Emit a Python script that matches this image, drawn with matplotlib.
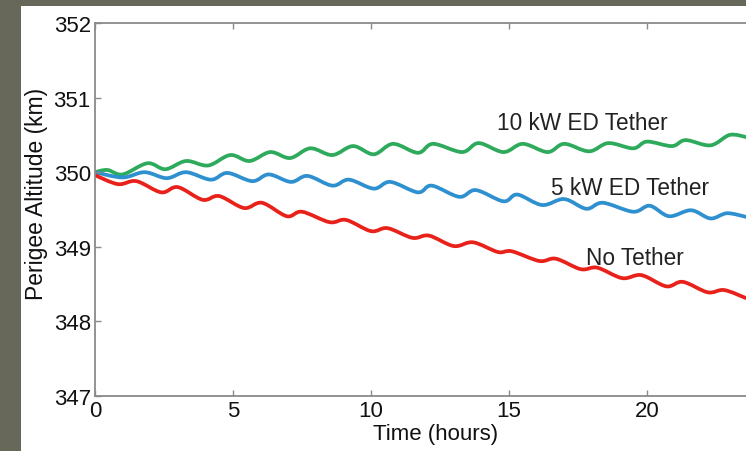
import matplotlib
matplotlib.use("Agg")
import numpy as np
import matplotlib.pyplot as plt
from matplotlib.patches import Rectangle, PathPatch
from matplotlib.path import Path

plt.rcParams['font.family'] = ['Liberation Sans', 'DejaVu Sans']

# --- data ---
red_t = [0.0, 0.83, 1.5, 2.4, 3.0, 3.9, 4.5, 5.4, 6.05, 6.95, 7.5, 8.5, 9.1, 10.0,
         10.6, 11.5, 12.1, 13.0, 13.7, 14.6, 15.1, 16.1, 16.7, 17.6, 18.2, 19.1,
         19.8, 20.7, 21.3, 22.2, 22.8, 23.6]
red_v = [349.96, 349.84, 349.88, 349.73, 349.80, 349.63, 349.68, 349.52, 349.59,
         349.41, 349.47, 349.33, 349.36, 349.21, 349.25, 349.12, 349.15, 349.01,
         349.06, 348.93, 348.94, 348.81, 348.84, 348.70, 348.72, 348.58, 348.62,
         348.47, 348.53, 348.39, 348.42, 348.31]

blue_t = [0.0, 1.0, 1.8, 2.6, 3.3, 4.2, 4.8, 5.7, 6.3, 7.1, 7.7, 8.6, 9.2, 10.1,
          10.7, 11.7, 12.2, 13.2, 13.8, 14.8, 15.3, 16.2, 17.0, 17.8, 18.4, 19.5,
          20.1, 20.8, 21.6, 22.3, 22.9, 23.6]
blue_v = [350.00, 349.93, 350.00, 349.92, 350.00, 349.90, 349.99, 349.88, 349.97,
          349.87, 349.95, 349.82, 349.90, 349.78, 349.87, 349.73, 349.82, 349.67,
          349.76, 349.61, 349.70, 349.56, 349.64, 349.51, 349.59, 349.47, 349.55,
          349.41, 349.49, 349.38, 349.45, 349.40]

green_t = [0.0, 0.45, 1.0, 1.9, 2.55, 3.3, 4.1, 4.9, 5.6, 6.35, 7.07, 7.8, 8.6,
           9.35, 10.1, 10.8, 11.7, 12.25, 13.3, 13.9, 14.8, 15.5, 16.4, 17.0,
           17.9, 18.6, 19.5, 20.0, 20.9, 21.4, 22.3, 23.0, 23.6]
green_v = [350.00, 350.03, 349.97, 350.12, 350.04, 350.15, 350.09, 350.23, 350.15,
           350.27, 350.19, 350.32, 350.23, 350.35, 350.24, 350.38, 350.26, 350.38,
           350.27, 350.39, 350.27, 350.38, 350.27, 350.38, 350.28, 350.39, 350.32,
           350.41, 350.35, 350.43, 350.36, 350.50, 350.47]

labels = ["10 kW ED Tether", "5 kW ED Tether", "No Tether"]
x_ticks = [0, 5, 10, 15, 20]
y_ticks = [347, 348, 349, 350, 351, 352]


def smooth_path(t, v):
    """Smooth (Catmull-Rom style) Bezier path passing through the given points."""
    p = np.column_stack([t, v]).astype(float)
    n = len(p)
    verts = [p[0]]
    codes = [Path.MOVETO]
    for i in range(n - 1):
        p0 = p[i - 1] if i > 0 else p[i]
        p1, p2 = p[i], p[i + 1]
        p3 = p[i + 2] if i + 2 < n else p[i + 1]
        c1 = p1 + (p2 - p0) / 6.0
        c2 = p2 - (p3 - p1) / 6.0
        verts += [c1, c2, p2]
        codes += [Path.CURVE4] * 3
    return Path(verts, codes)


W, H = 746, 452
fig = plt.figure(figsize=(W / 100, H / 100), dpi=100)
fig.patch.set_facecolor('#67675a')
bg = Rectangle((21 / W, 0), 1, 1 - 7 / H, transform=fig.transFigure,
               facecolor='white', edgecolor='none', zorder=-10)
fig.patches.append(bg)

left_px, right_px, top_px, bot_px = 95, 95 + 24 * 27.6, 24, 397
ax = fig.add_axes([left_px / W, 1 - bot_px / H, (right_px - left_px) / W,
                   (bot_px - top_px) / H])
ax.set_zorder(1)
ax.set_facecolor('white')

lw = 2.7
for t, v, c in [(green_t, green_v, '#2eaa5c'), (blue_t, blue_v, '#2f90cf'),
                (red_t, red_v, '#e8221b')]:
    ax.add_patch(PathPatch(smooth_path(t, v), facecolor='none', edgecolor=c,
                           lw=lw, joinstyle='round', capstyle='butt'))

ax.set_xlim(0, 24)
ax.set_ylim(347, 352)
ax.set_xticks(x_ticks)
ax.set_yticks(y_ticks)
for s in ax.spines.values():
    s.set_color('#8a8a8a')
    s.set_linewidth(1.3)
ax.tick_params(direction='in', length=4, width=1, color='#8a8a8a',
               top=True, right=True, labelsize=16, labelcolor='#111111', pad=3)

fs = 16.3
ax.text(14.57, 350.66, labels[0], fontsize=fs, va='center', ha='left', color='#222222')
ax.text(16.52, 349.79, labels[1], fontsize=fs, va='center', ha='left', color='#222222')
ax.text(17.79, 348.86, labels[2], fontsize=fs, va='center', ha='left', color='#222222')

fig.text(436 / W, 1 - 435 / H, "Time (hours)", fontsize=16, ha='center', va='center',
         color='#111111', zorder=5)
fig.text(37 / W, 1 - 194 / H, "Perigee Altitude (km)", fontsize=16.5, ha='center',
         va='center', rotation=90, color='#111111', zorder=5)

fig.savefig('out.png', dpi=100, facecolor=fig.get_facecolor())
